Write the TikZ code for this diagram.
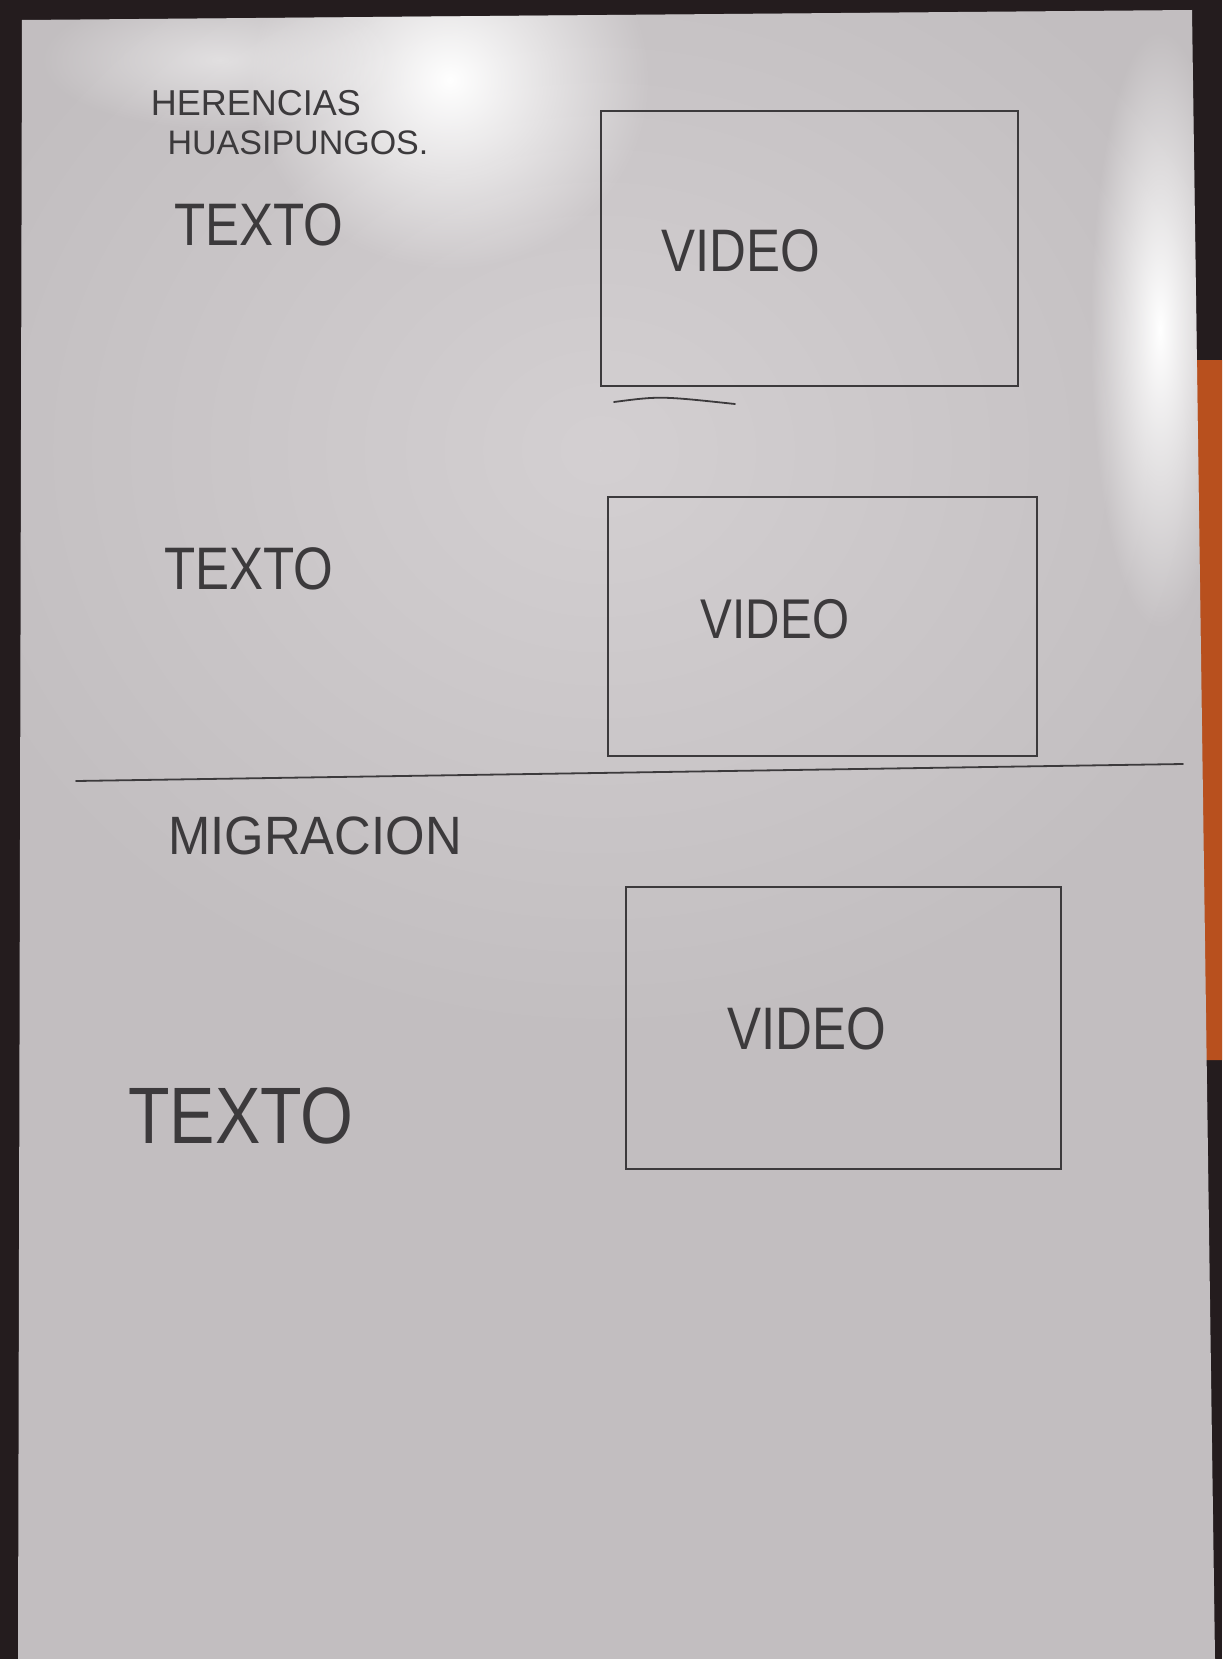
\documentclass[tikz,border=0pt]{standalone}
\usepackage{fontspec}
\setmainfont{Liberation Sans}
\usetikzlibrary{fadings}
\tikzfading[name=glow, inner color=transparent!0, outer color=transparent!100]
\definecolor{paper}{HTML}{C2BEC0}
\definecolor{paperlight}{HTML}{D4D0D2}
\definecolor{pencil}{HTML}{3C3A3C}
\definecolor{bgdark}{HTML}{241C1E}
\definecolor{bgorange}{HTML}{B8501E}
\tikzset{
  hand/.style={text=pencil, inner sep=0pt, font=\fontsize{#1}{#1}\selectfont},
  hand/.default=30,
  vbox/.style={draw=pencil, line width=0.9pt, inner sep=0pt},
  pline/.style={draw=pencil, line width=0.9pt, line cap=round}
}
\begin{document}
\begin{tikzpicture}[x=0.5pt,y=-0.5pt]
\useasboundingbox (0,0) rectangle (1222,1659);
% background
\fill[bgdark] (0,0) rectangle (1222,1659);
\fill[bgorange] (1195,360) -- (1222,360) -- (1222,1060) -- (1205,1060) -- cycle;
% paper
\fill[paper] (22,20) -- (1192,10) -- (1215,1659) -- (18,1659) -- cycle;
\begin{scope}
\clip (22,20) -- (1192,10) -- (1215,1659) -- (18,1659) -- cycle;
\fill[paperlight, path fading=glow] (600,450) ellipse (700 and 600);
\fill[white, path fading=glow] (450,80) ellipse (200 and 190);
\fill[white, path fading=glow] (1160,330) ellipse (70 and 300);
\fill[white, opacity=0.5, path fading=glow] (220,60) ellipse (180 and 70);
\end{scope}
% header text
\node[hand=18] (h1) at (256,103) {HERENCIAS};
\node[hand=17] (h2) at (298,143) {HUASIPUNGOS.};
% section 1
\node[hand=30, xscale=0.85] (t1) at (259,225) {TEXTO};
\node[vbox, minimum width=208.5pt, minimum height=137.5pt] (b1) at (809.5,248.5) {};
\node[hand=30, xscale=0.85] (v1) at (741,251) {VIDEO};
\coordinate (u1) at (614,402);
\coordinate (u2) at (735,404);
\draw[pline] (u1) .. controls (660,396) .. (u2);
% section 2
\node[hand=30, xscale=0.85] (t2) at (249,569) {TEXTO};
\node[vbox, line width=1.1pt, minimum width=214.5pt, minimum height=129.5pt] (b2) at (822.5,626.5) {};
\node[hand=28, xscale=0.85] (v2) at (775,619) {VIDEO};
% divider
\coordinate (d1) at (76,781);
\coordinate (d2) at (1183,764);
\draw[pline] (d1) -- (d2);
% section 3
\node[hand=27, xscale=0.94] (m) at (315,836) {MIGRACION};
\node[vbox, minimum width=217.5pt, minimum height=141pt] (b3) at (843.5,1028) {};
\node[hand=30, xscale=0.85] (v3) at (807,1029) {VIDEO};
\node[hand=40, xscale=0.85] (t3) at (241,1116) {TEXTO};
\end{tikzpicture}
\end{document}
